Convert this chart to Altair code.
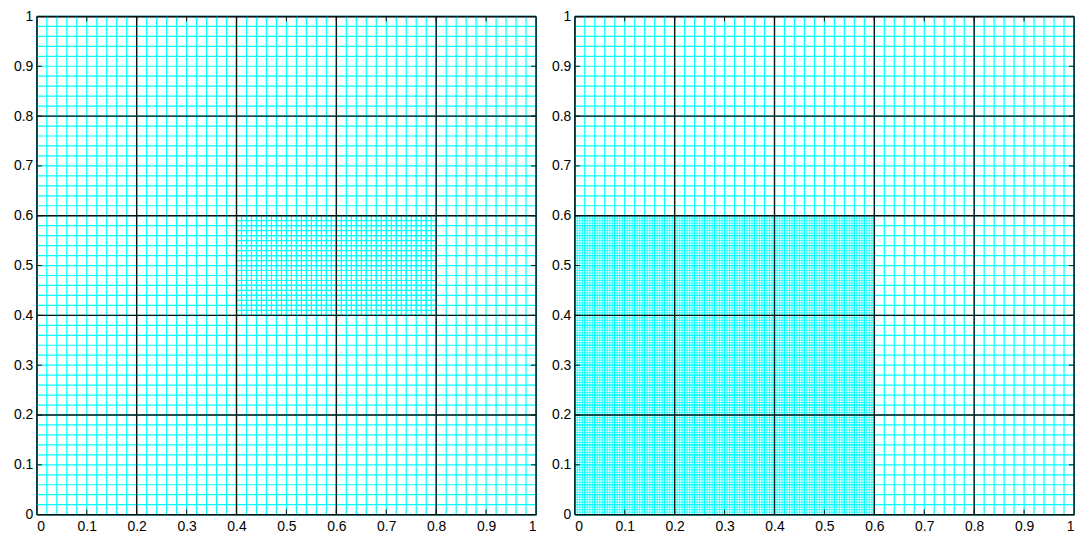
import altair as alt
import numpy as np
import pandas as pd

# --- mesh description ---
domain = [0.0, 1.0]
coarse_step = 0.02          # cyan base mesh spacing
block_step = 0.2            # black coarse-block lines
tick_values = [0, 0.1, 0.2, 0.3, 0.4, 0.5, 0.6, 0.7, 0.8, 0.9, 1]

# refined patches: (x0, x1, y0, y1, spacing)
left_refine = [0.4, 0.8, 0.4, 0.6, 0.01]
right_refine = [0.0, 0.6, 0.0, 0.6, 0.005]

CYAN = "#00ffff"
DARK = "#061414"
FONT = "Liberation Sans"


def levels(a, b, step):
    n = int(round((b - a) / step))
    return [round(a + i * step, 6) for i in range(n + 1)]


def lines(x0, x1, y0, y1, step, kind):
    rows = []
    for v in levels(x0, x1, step):
        rows.append(dict(x=v, x2=v, y=y0, y2=y1, kind=kind))
    for v in levels(y0, y1, step):
        rows.append(dict(x=x0, x2=x1, y=v, y2=v, kind=kind))
    return rows


def tick_rows(ln=0.01):
    rows = []
    for t in tick_values[1:-1]:
        rows.append(dict(x=t, x2=t, y=0, y2=ln))
        rows.append(dict(x=t, x2=t, y=1, y2=1 - ln))
        rows.append(dict(x=0, x2=ln, y=t, y2=t))
        rows.append(dict(x=1, x2=1 - ln, y=t, y2=t))
    return pd.DataFrame(rows)


xs = alt.Scale(domain=domain, nice=False, zero=False)
ys = alt.Scale(domain=domain, nice=False, zero=False)
xax = alt.Axis(values=tick_values, format="~g", title=None, grid=False,
               domain=False, ticks=False, labelPadding=5,
               labelFont=FONT, labelFontSize=14, labelColor="black")
yax = alt.Axis(values=tick_values, format="~g", title=None, grid=False,
               domain=False, ticks=False, labelPadding=4,
               minExtent=28, maxExtent=28,
               labelFont=FONT, labelFontSize=14, labelColor="black")


def enc(ch):
    return ch.encode(
        x=alt.X("x:Q", scale=xs, axis=xax),
        x2="x2:Q",
        y=alt.Y("y:Q", scale=ys, axis=yax),
        y2="y2:Q",
    )


def panel(refine, fine_width):
    coarse = pd.DataFrame(lines(0, 1, 0, 1, coarse_step, "coarse"))
    fine = pd.DataFrame(lines(*refine, "fine"))
    black = pd.DataFrame(lines(0, 1, 0, 1, block_step, "block"))
    ticks = tick_rows()

    l1 = enc(alt.Chart(coarse).mark_rule(color=CYAN, strokeWidth=1.2))
    l2 = enc(alt.Chart(fine).mark_rule(color=CYAN, strokeWidth=fine_width))
    l3 = enc(alt.Chart(black).mark_rule(color=DARK, strokeWidth=1.4))
    l4 = enc(alt.Chart(ticks).mark_rule(color=DARK, strokeWidth=1))
    return alt.layer(l1, l2, l3, l4).properties(width=502, height=501)


chart = alt.hconcat(panel(left_refine, 1.2), panel(right_refine, 0.8),
                    spacing=39, bounds="flush").properties(
    padding={"left": 0, "top": -1, "right": 0, "bottom": 0}
).configure_view(stroke=DARK, strokeWidth=1)

chart.save("out.html", embed_options={"renderer": "svg", "actions": False})
